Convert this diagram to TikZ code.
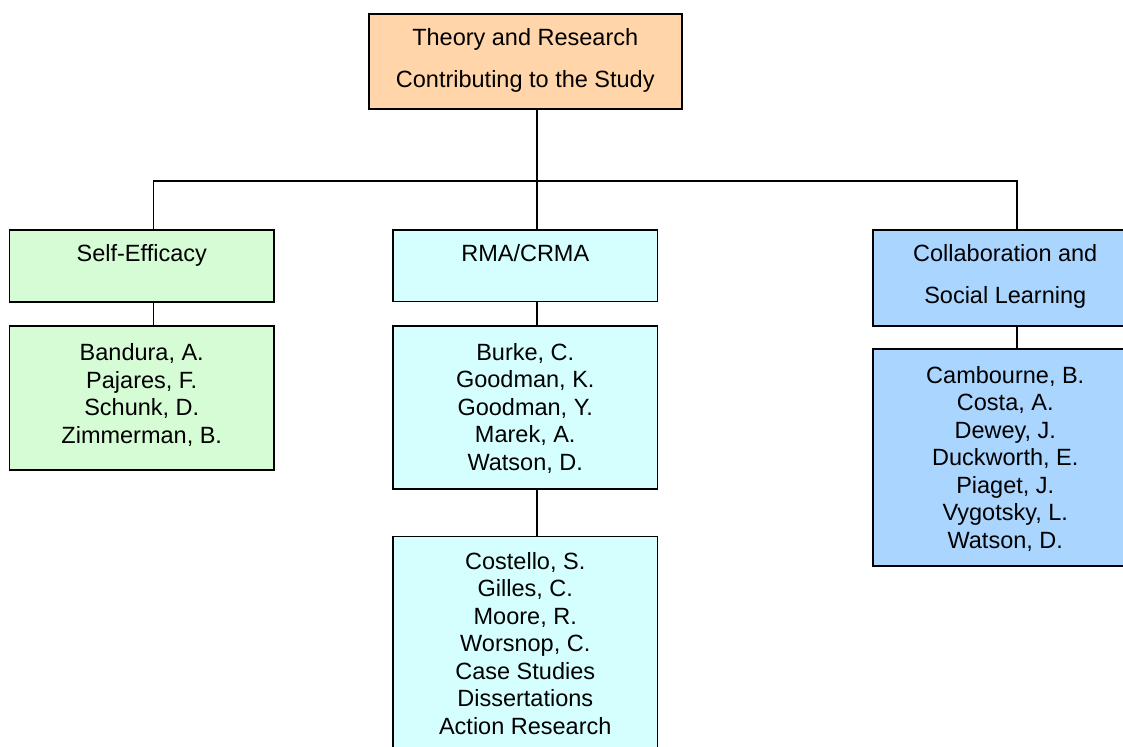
\documentclass[tikz,border=0pt]{standalone}
\usepackage{fontspec}
\setmainfont{Liberation Sans}
\usetikzlibrary{positioning}
\definecolor{peach}{HTML}{FFD5A9}
\definecolor{mint}{HTML}{D5FCD5}
\definecolor{aqua}{HTML}{D5FFFF}
\definecolor{sky}{HTML}{A9D5FF}

\begin{document}
\begin{tikzpicture}[x=1pt,y=-1pt,
  box/.style={draw, line width=1.6pt, inner sep=0pt, anchor=north, minimum width=264.5pt},
  head/.style={align=center, inner sep=0pt, font=\fontsize{23.5}{41.6}\selectfont},
  list/.style={align=center, inner sep=0pt, font=\fontsize{23.5}{27.5}\selectfont},
  link/.style={line width=1.5pt}]
\useasboundingbox (0,0) rectangle (1123,746);
\clip (0,0) rectangle (1123,746);
\fill[white] (0,0) rectangle (1123,746);

% Boxes
\node[box, fill=peach, minimum width=313pt, minimum height=95.5pt] (top) at (525.25,13) {};
\foreach \n/\x/\y/\h/\c in {se/141.75/229/72/mint, rma/525.25/229/71.5/aqua,
    col/1005.25/229.3/96/sky, selist/141.75/325/144/mint, rmalist/525.25/325/163/aqua,
    rmamore/525.25/535.5/240/aqua, collist/1005.25/348.3/217/sky}
  \node[box, fill=\c, minimum height=\h pt] (\n) at (\x,\y) {};

% Headings
\node[head, below=15.3pt of top.north] (toptxt) {Theory and Research\\Contributing to the Study};
\node[head, below=15.3pt of se.north] (setxt) {Self-Efficacy};
\node[head, below=15.3pt of rma.north] (rmatxt) {RMA/CRMA};
\node[head, below=15pt of col.north] (coltxt) {Collaboration and\\Social Learning};

% Names
\node[list, below=18.3pt of selist.north] (senames) {Bandura, A.\\Pajares, F.\\Schunk, D.\\Zimmerman, B.};
\node[list, below=18pt of rmalist.north] (rmanames) {Burke, C.\\Goodman, K.\\Goodman, Y.\\Marek, A.\\Watson, D.};
\node[list, below=16.5pt of rmamore.north] (rmaother) {Costello, S.\\Gilles, C.\\Moore, R.\\Worsnop, C.\\Case Studies\\Dissertations\\Action Research};
\node[list, below=17.7pt of collist.north] (colnames) {Cambourne, B.\\Costa, A.\\Dewey, J.\\Duckworth, E.\\Piaget, J.\\Vygotsky, L.\\Watson, D.};

% Connectors
\def\off{11.75pt}
\coordinate (bus) at (0,181);
\coordinate (seup) at ([xshift=\off]se.north);
\coordinate (colup) at ([xshift=\off]col.north);
\draw[link] ([xshift=\off]top.south) -- ([xshift=\off]rma.north);
\draw[link] (seup) -- (seup |- bus) -- (colup |- bus) -- (colup);
\foreach \a/\b in {se/selist, rma/rmalist, rmalist/rmamore, col/collist}
  \draw[link] ([xshift=\off]\a.south) -- ([xshift=\off]\b.north);
\end{tikzpicture}
\end{document}
